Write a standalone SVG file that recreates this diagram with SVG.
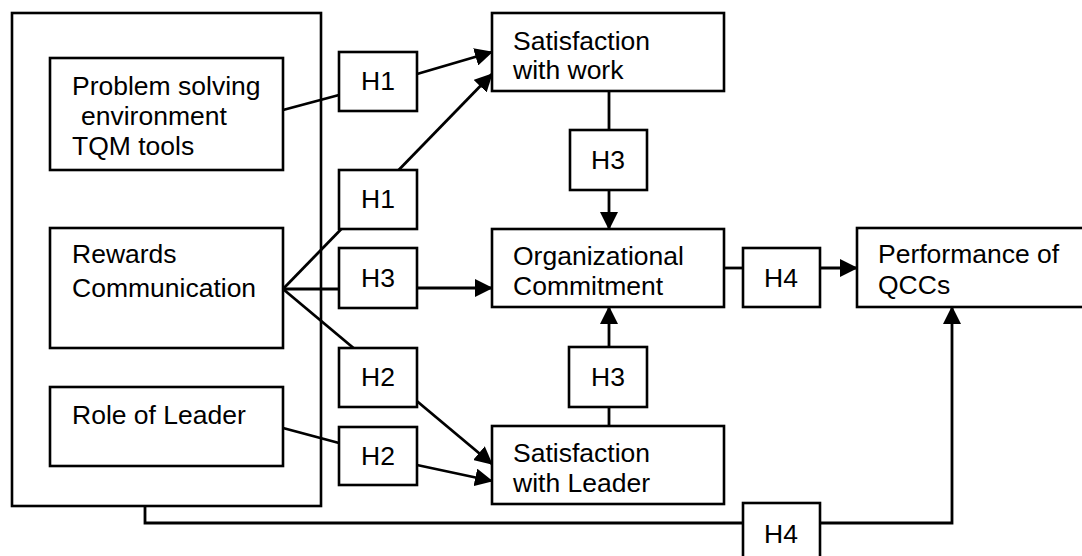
<svg xmlns="http://www.w3.org/2000/svg" width="1082" height="556" viewBox="0 0 1082 556">
  <style>
    .box { fill: #ffffff; stroke: #000000; stroke-width: 2.6; }
    .frame { fill: none; stroke: #000000; stroke-width: 2.6; }
    .lbl { font-family: "Liberation Sans", Arial, sans-serif; font-size: 26.5px; fill: #000000; }
    .h { font-family: "Liberation Sans", Arial, sans-serif; font-size: 26.5px; fill: #000000; text-anchor: middle; }
    .edge { fill: none; stroke: #000000; stroke-width: 2.8; }
    .arrow { fill: none; stroke: #000000; stroke-width: 2.8; marker-end: url(#head); }
  </style>
  <defs>
    <marker id="head" markerUnits="userSpaceOnUse" markerWidth="18" markerHeight="18" refX="17" refY="9" orient="auto">
      <path d="M0,0 L18,9 L0,18 z" fill="#000000"/>
    </marker>
  </defs>

  <rect width="1082" height="556" fill="#ffffff"/>

  <!-- frame enclosing the three organisational factors -->
  <g id="factors-frame">
    <rect class="frame" x="12" y="13" width="309" height="493"/>
  </g>

  <!-- connectors -->
  <g id="connectors">
    <line class="edge" x1="283" y1="110" x2="339" y2="95"/>
    <line class="arrow" x1="417" y1="74" x2="492" y2="52"/>
    <line class="arrow" x1="283" y1="289" x2="492" y2="74"/>
    <line class="edge" x1="283" y1="289" x2="339" y2="289"/>
    <line class="arrow" x1="417" y1="288" x2="492" y2="288"/>
    <line class="arrow" x1="283" y1="289" x2="492" y2="464"/>
    <line class="edge" x1="283" y1="428" x2="339" y2="443"/>
    <line class="arrow" x1="417" y1="465" x2="492" y2="481"/>
    <line class="edge" x1="609" y1="91" x2="609" y2="130"/>
    <line class="arrow" x1="609" y1="190" x2="609" y2="229"/>
    <line class="edge" x1="609" y1="426" x2="609" y2="407"/>
    <line class="arrow" x1="609" y1="347" x2="609" y2="307"/>
    <line class="edge" x1="724" y1="268" x2="743" y2="268"/>
    <line class="arrow" x1="820" y1="268" x2="857" y2="268"/>
    <polyline class="edge" points="145,506 145,523 743,523"/>
    <polyline class="arrow" points="820,523 952,523 952,307"/>
  </g>

  <!-- factor boxes -->
  <g id="problem-solving">
    <rect class="box" x="50" y="58" width="233" height="112"/>
    <text class="lbl" x="72" y="95">Problem solving</text>
    <text class="lbl" x="81" y="125">environment</text>
    <text class="lbl" x="72" y="155">TQM tools</text>
  </g>
  <g id="rewards-communication">
    <rect class="box" x="50" y="228" width="233" height="120"/>
    <text class="lbl" x="72" y="263">Rewards</text>
    <text class="lbl" x="72" y="297">Communication</text>
  </g>
  <g id="role-of-leader">
    <rect class="box" x="50" y="387" width="233" height="79"/>
    <text class="lbl" x="72" y="424">Role of Leader</text>
  </g>

  <!-- hypothesis labels -->
  <g id="h1-a"><rect class="box" x="339" y="52" width="78" height="59"/><text class="h" x="378" y="90">H1</text></g>
  <g id="h1-b"><rect class="box" x="339" y="170" width="78" height="59"/><text class="h" x="378" y="208">H1</text></g>
  <g id="h3-a"><rect class="box" x="339" y="248" width="78" height="60"/><text class="h" x="378" y="287">H3</text></g>
  <g id="h2-a"><rect class="box" x="339" y="348" width="78" height="59"/><text class="h" x="378" y="386">H2</text></g>
  <g id="h2-b"><rect class="box" x="339" y="427" width="78" height="58"/><text class="h" x="378" y="465">H2</text></g>
  <g id="h3-b"><rect class="box" x="570" y="130" width="77" height="60"/><text class="h" x="608" y="169">H3</text></g>
  <g id="h3-c"><rect class="box" x="569" y="347" width="78" height="60"/><text class="h" x="608" y="386">H3</text></g>
  <g id="h4-a"><rect class="box" x="743" y="248" width="77" height="59"/><text class="h" x="781" y="287">H4</text></g>
  <g id="h4-b"><rect class="box" x="743" y="503" width="77" height="62"/><text class="h" x="781" y="543">H4</text></g>

  <!-- outcome boxes -->
  <g id="satisfaction-work">
    <rect class="box" x="492" y="13" width="232" height="78"/>
    <text class="lbl" x="513" y="50">Satisfaction</text>
    <text class="lbl" x="513" y="79">with work</text>
  </g>
  <g id="organizational-commitment">
    <rect class="box" x="492" y="229" width="232" height="78"/>
    <text class="lbl" x="513" y="265">Organizational</text>
    <text class="lbl" x="513" y="295">Commitment</text>
  </g>
  <g id="satisfaction-leader">
    <rect class="box" x="492" y="426" width="232" height="78"/>
    <text class="lbl" x="513" y="462">Satisfaction</text>
    <text class="lbl" x="513" y="492">with Leader</text>
  </g>
  <g id="performance-qccs">
    <rect class="box" x="857" y="228" width="230" height="79"/>
    <text class="lbl" x="878" y="263">Performance of</text>
    <text class="lbl" x="878" y="294">QCCs</text>
  </g>
</svg>
